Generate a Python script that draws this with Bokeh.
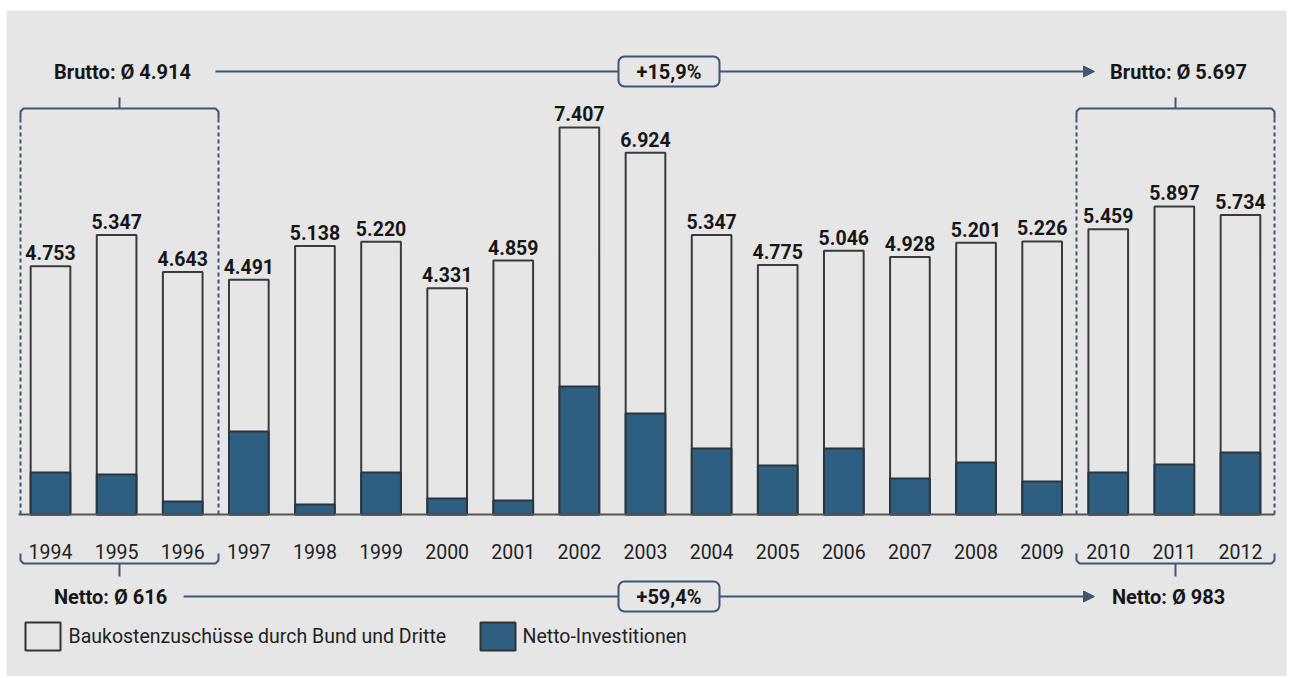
from bokeh.plotting import figure
from bokeh.models import Range1d, Arrow, NormalHead, ColumnDataSource
from bokeh.core.properties import value
from bokeh.embed import file_html
from bokeh.resources import INLINE

years = ["1994", "1995", "1996", "1997", "1998", "1999", "2000", "2001", "2002", "2003",
         "2004", "2005", "2006", "2007", "2008", "2009", "2010", "2011", "2012"]
brutto = [4753, 5347, 4643, 4491, 5138, 5220, 4331, 4859, 7407, 6924,
          5347, 4775, 5046, 4928, 5201, 5226, 5459, 5897, 5734]
netto = [804, 766, 249, 1589, 191, 804, 306, 268, 2450, 1933,
         1263, 938, 1263, 689, 995, 632, 804, 957, 1187]
legend_labels = ["Baukostenzuschüsse durch Bund und Dritte", "Netto-Investitionen"]
brutto_avg = ["Brutto: Ø 4.914", "Brutto: Ø 5.697"]
netto_avg = ["Netto: Ø 616", "Netto: Ø 983"]
changes = ["+15,9%", "+59,4%"]

FONT = "Roboto"
BG = "#e6e6e6"
NAVY = "#2e5e80"
LINE = "#3e5674"
TXT = "#161616"

W, H = 1290, 676
PXU = 66.11          # pixels per category
PYU = 0.05225        # pixels per value unit
X0 = -50 / PXU
X1 = X0 + W / PXU
Y1 = 514 / PYU
Y0 = Y1 - H / PYU


def px2x(px):
    return X0 + px / W * (X1 - X0)


def px2y(py):
    return Y1 - py / H * (Y1 - Y0)


p = figure(width=W, height=H, output_backend="svg", toolbar_location=None,
           x_range=Range1d(X0, X1), y_range=Range1d(Y0, Y1),
           x_axis_type=None, y_axis_type=None, min_border=0)
p.background_fill_color = "white"
p.border_fill_color = "white"
p.outline_line_color = None
p.grid.visible = False

# panel
p.quad(left=[px2x(6)], right=[px2x(1286)], top=[px2y(10)], bottom=[px2y(H + 2)],
       fill_color=BG, line_color=None)

idx = list(range(len(years)))
src = ColumnDataSource(dict(x=idx, brutto=brutto, netto=netto, years=years,
                            lbl=[f"{v:,}".replace(",", ".") for v in brutto]))

# bars
p.vbar(x="x", top="brutto", bottom=0, width=0.6, source=src,
       fill_alpha=0, line_color="#3a3a3a", line_width=2)
p.vbar(x="x", top="netto", bottom=0, width=0.6, source=src,
       fill_color=NAVY, line_color="#2a3440", line_width=2)

# baseline
p.line([px2x(18), px2x(1274)], [0, 0], line_color="#555555", line_width=2)

# value labels
p.text(x="x", y="brutto", text="lbl", source=src, y_offset=-6,
       text_align="center", text_baseline="bottom", text_font=value(FONT),
       text_font_style="bold", text_font_size="19.5px", text_color=TXT)
# year labels
p.text(x="x", y=0, text="years", source=src, y_offset=37,
       text_align="center", text_baseline="middle", text_font=value(FONT),
       text_font_size="19.5px", text_color="#222222")

# brackets
for (l, r) in [(20, 218), (1076, 1274)]:
    c = (l + r) / 2
    xs = [l, l, l + 3, r - 3, r, r]
    ys = [118, 111, 108, 108, 111, 118]
    p.line([px2x(v) for v in xs], [px2y(v) for v in ys], line_color=LINE, line_width=2)
    p.line([px2x(c), px2x(c)], [px2y(108), px2y(97)], line_color=LINE, line_width=2)
    for xv in (l, r):
        p.line([px2x(xv), px2x(xv)], [px2y(118), px2y(516)], line_color=LINE,
               line_width=2, line_dash="4 3")
    ys2 = [553, 560, 563, 563, 560, 553]
    p.line([px2x(v) for v in xs], [px2y(v) for v in ys2], line_color=LINE, line_width=2)
    p.line([px2x(c), px2x(c)], [px2y(563), px2y(576)], line_color=LINE, line_width=2)

# average labels + arrows
rows = [(71, brutto_avg, changes[0], 122, 1178, 215), (596, netto_avg, changes[1], 110, 1168, 183)]
for (py, labels, chg, lx, rx, start) in rows:
    p.text(x=[px2x(lx), px2x(rx)], y=[px2y(py)] * 2, text=labels,
           text_align="center", text_baseline="middle", text_font=value(FONT),
           text_font_style="bold", text_font_size="20px", text_color=TXT)
    p.line([px2x(start), px2x(618)], [px2y(py), px2y(py)], line_color=LINE, line_width=2)
    p.add_layout(Arrow(x_start=px2x(719), y_start=px2y(py), x_end=px2x(1094), y_end=px2y(py),
                       line_color=LINE, line_width=2,
                       end=NormalHead(size=11, fill_color=LINE, line_color=LINE)))
    p.quad(left=[px2x(618)], right=[px2x(719)], top=[px2y(py - 15)], bottom=[px2y(py + 15)],
           fill_color=BG, line_color=LINE, line_width=2, border_radius=6)
    p.text(x=[px2x(668.5)], y=[px2y(py)], text=[chg], text_align="center",
           text_baseline="middle", text_font=value(FONT), text_font_style="bold",
           text_font_size="20px", text_color=TXT)

# legend
p.quad(left=[px2x(25)], right=[px2x(60)], top=[px2y(622)], bottom=[px2y(650)],
       fill_alpha=0, line_color="#333333", line_width=2)
p.quad(left=[px2x(480)], right=[px2x(515)], top=[px2y(622)], bottom=[px2y(650)],
       fill_color=NAVY, line_color="#333333", line_width=2)
p.text(x=[px2x(68), px2x(522)], y=[px2y(636)] * 2, text=legend_labels,
       text_align="left", text_baseline="middle", text_font=value(FONT),
       text_font_size="19.5px", text_color="#222222")

open("out.html", "w").write(file_html(p, INLINE))
